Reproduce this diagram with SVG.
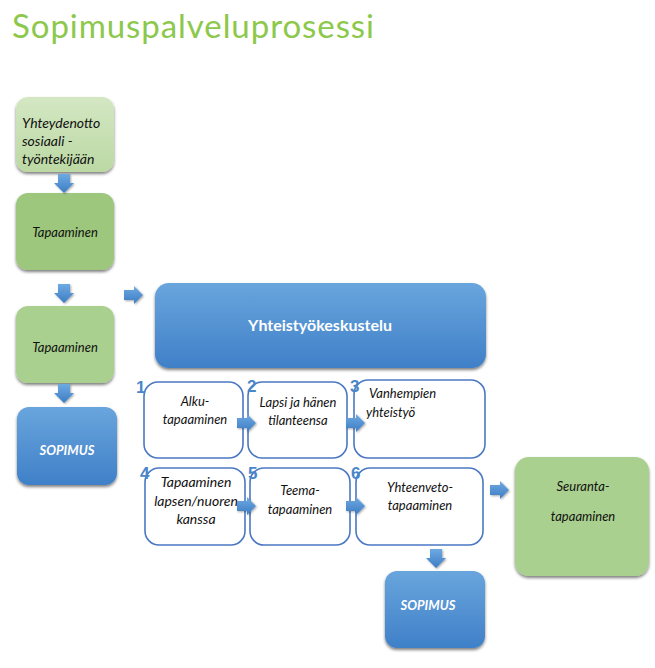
<svg xmlns="http://www.w3.org/2000/svg" width="655" height="668" viewBox="0 0 655 668">
<defs>
<linearGradient id="gBlue" x1="0" y1="0" x2="0" y2="1"><stop offset="0" stop-color="#69a5dd"/><stop offset="1" stop-color="#3f80c8"/></linearGradient>
<linearGradient id="gLight" x1="0" y1="0" x2="0" y2="1"><stop offset="0" stop-color="#d3e7c3"/><stop offset="1" stop-color="#bcd9a4"/></linearGradient>
<linearGradient id="gArrow" x1="0" y1="0" x2="0" y2="1"><stop offset="0" stop-color="#6eaae2"/><stop offset="1" stop-color="#3d7cc4"/></linearGradient>
<filter id="sh" x="-10%" y="-10%" width="120%" height="125%"><feDropShadow dx="0" dy="2" stdDeviation="1.5" flood-color="#000" flood-opacity="0.5"/></filter>
<filter id="sha" x="-20%" y="-20%" width="150%" height="150%"><feDropShadow dx="1" dy="1" stdDeviation="0.8" flood-color="#000" flood-opacity="0.35"/></filter>
<path id="arrD" d="M-6,0 H6 V9 H10 L0,19 L-10,9 H-6 Z"/>
<path id="arrR" d="M0,-5 H10 V-9 L19,0 L10,9 V5 H0 Z"/>
</defs>
<style>
.t{font-family:Lato,"Open Sans","Liberation Sans",sans-serif;font-style:italic;font-size:13px;fill:#111}
.l{font-size:14px}
.c{text-anchor:middle}
.w{fill:#fff;font-weight:bold}
.num{font-family:"Liberation Sans",Arial,sans-serif;font-weight:bold;font-size:17px;fill:#4a86c8}
.wb{fill:#fff;stroke:#4a78c2;stroke-width:1.6}
.blue{fill:url(#gBlue);filter:url(#sh)}
.arr{fill:url(#gArrow);filter:url(#sha)}
</style>
<rect width="655" height="668" fill="#fff"/>
<text x="12" y="38" font-family="Lato,'Open Sans',sans-serif" font-size="33" fill="#8cc84b" textLength="362" lengthAdjust="spacing">Sopimuspalveluprosessi</text>

<g id="n-yhteydenotto">
<rect x="16" y="97" width="98" height="75" rx="12" fill="url(#gLight)" filter="url(#sh)"/>
<text class="t l" x="22" y="128">Yhteydenotto</text>
<text class="t l" x="22" y="146">sosiaali -</text>
<text class="t l" x="22" y="164">työntekijään</text>
</g>
<g id="n-tapaaminen1">
<rect x="16" y="193" width="98" height="77" rx="12" fill="#9cc77c" filter="url(#sh)"/>
<text class="t c" x="65" y="237">Tapaaminen</text>
</g>
<g id="n-tapaaminen2">
<rect x="16" y="306" width="98" height="77" rx="12" fill="#a9d08e" filter="url(#sh)"/>
<text class="t c" x="65" y="352">Tapaaminen</text>
</g>
<g id="n-sopimus1">
<rect class="blue" x="17" y="407" width="100" height="78" rx="12"/>
<text class="t c w" x="67" y="455">SOPIMUS</text>
</g>
<g id="n-yhteistyokeskustelu">
<rect class="blue" x="155" y="283" width="331" height="85" rx="14"/>
<text x="320" y="331" text-anchor="middle" font-family="Lato,'Open Sans',sans-serif" font-weight="bold" font-size="16" fill="#fff">Yhteistyökeskustelu</text>
</g>
<g id="n-1">
<rect class="wb" x="144" y="382" width="99" height="76" rx="14"/>
<text class="num" x="136" y="393">1</text>
<text class="t c" x="195" y="406">Alku-</text>
<text class="t c" x="195" y="424">tapaaminen</text>
</g>
<g id="n-2">
<rect class="wb" x="248" y="382" width="99" height="76" rx="14"/>
<text class="num" x="247" y="392">2</text>
<text class="t c" x="298" y="407">Lapsi ja hänen</text>
<text class="t c" x="298" y="425">tilanteensa</text>
</g>
<g id="n-3">
<rect class="wb" x="354" y="380" width="131" height="78" rx="14"/>
<text class="num" x="350" y="392">3</text>
<text class="t" x="369" y="398">Vanhempien</text>
<text class="t" x="366" y="417">yhteistyö</text>
</g>
<g id="n-4">
<rect class="wb" x="145" y="468" width="100" height="77" rx="14"/>
<text class="num" x="140" y="479">4</text>
<text class="t c l" x="196" y="487">Tapaaminen</text>
<text class="t c l" x="196" y="506">lapsen/nuoren</text>
<text class="t c l" x="196" y="524">kanssa</text>
</g>
<g id="n-5">
<rect class="wb" x="250" y="468" width="100" height="77" rx="14"/>
<text class="num" x="248" y="479">5</text>
<text class="t c" x="300" y="495">Teema-</text>
<text class="t c" x="300" y="514">tapaaminen</text>
</g>
<g id="n-6">
<rect class="wb" x="356" y="468" width="127" height="77" rx="14"/>
<text class="num" x="351" y="479">6</text>
<text class="t c" x="420" y="492">Yhteenveto-</text>
<text class="t c" x="420" y="510">tapaaminen</text>
</g>
<g id="n-seuranta">
<rect x="515" y="457" width="134" height="119" rx="14" fill="#a9d08e" filter="url(#sh)"/>
<text class="t c" x="583" y="491">Seuranta-</text>
<text class="t c" x="583" y="521">tapaaminen</text>
</g>
<g id="n-sopimus2">
<rect class="blue" x="385" y="571" width="100" height="77" rx="12"/>
<text class="t c w" x="428" y="610">SOPIMUS</text>
</g>

<g id="connectors">
<use href="#arrD" class="arr" x="64" y="174"/>
<use href="#arrD" class="arr" x="64" y="284"/>
<use href="#arrD" class="arr" x="64" y="384"/>
<use href="#arrR" class="arr" x="124" y="295"/>
<use href="#arrR" class="arr" x="237" y="423"/>
<use href="#arrR" class="arr" x="346" y="423"/>
<use href="#arrR" class="arr" x="237" y="506"/>
<use href="#arrR" class="arr" x="346" y="506"/>
<use href="#arrR" class="arr" x="490" y="490"/>
<use href="#arrD" class="arr" x="436" y="549"/>
</g>
</svg>
